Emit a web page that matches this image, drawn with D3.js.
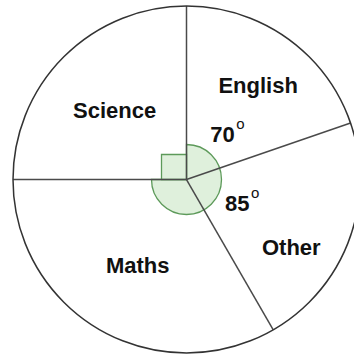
<!DOCTYPE html>
<html><head><meta charset="utf-8">
<script src="https://cdn.jsdelivr.net/npm/d3@7"></script>
<style>html,body{margin:0;padding:0;background:#fff;}svg{display:block;}</style>
</head><body>
<svg id="chart" width="354" height="355"></svg>
<script>
// Data (slice angles in degrees as drawn, clockwise from 12 o'clock)
const subjects = ["English", "Other", "Maths", "Science"];
const sliceDegrees = [71, 79, 120, 90];
const angleLabels = ["70", "85", null, null];

// Layout (not data)
const W = 354, H = 355, cx = 186.5, cy = 179.5, R = 173.5;
const markR = 35, squareSide = 25;
const nameLayout = { English: [37.4, 118], Other: [123, 125], Maths: [209.5, 99], Science: [314, 100] };
const angleLayout = { English: [38.4, 58], Other: [115, 56] };

const svg = d3.select("#chart");
const g = svg.append("g").attr("transform", `translate(${cx},${cy})`);
const rad = d => d * Math.PI / 180;

const pie = d3.pie().sort(null).value(d => d.v);
const arcs = pie(subjects.map((s, i) => ({ name: s, v: sliceDegrees[i], lab: angleLabels[i] })));
const arcGen = d3.arc().innerRadius(0).outerRadius(R);

// slices
g.selectAll("path.slice").data(arcs).join("path")
  .attr("class", "slice").attr("d", arcGen)
  .attr("fill", "#fff").attr("stroke", "none");

// green angle marker for the non-right slices
const marked = arcs.filter(a => a.data.name !== "Science");
const markArc = d3.arc().innerRadius(0).outerRadius(markR);
g.append("path")
  .attr("d", markArc({ startAngle: marked[0].startAngle, endAngle: marked[marked.length - 1].endAngle }))
  .attr("fill", "#dff0dc").attr("stroke", "#5d9a5a").attr("stroke-width", 1.3);

// right-angle square for Science
const sci = arcs.find(a => a.data.name === "Science");
const p = (ang, r) => [Math.sin(ang) * r, -Math.cos(ang) * r];
const a1 = p(sci.startAngle, squareSide), a2 = p(sci.endAngle, squareSide);
g.append("path")
  .attr("d", `M0,0L${a1[0]},${a1[1]}L${a1[0] + a2[0]},${a1[1] + a2[1]}L${a2[0]},${a2[1]}Z`)
  .attr("fill", "#dff0dc").attr("stroke", "#5d9a5a").attr("stroke-width", 1.3);

// radial lines
g.selectAll("line.rad").data(arcs).join("line")
  .attr("class", "rad")
  .attr("x1", 0).attr("y1", 0)
  .attr("x2", d => p(d.startAngle, R)[0]).attr("y2", d => p(d.startAngle, R)[1])
  .attr("stroke", "#4a4a4a").attr("stroke-width", 1.5);

// outer circle
g.append("circle").attr("r", R).attr("fill", "none").attr("stroke", "#333").attr("stroke-width", 1.5);

// subject labels
g.selectAll("text.name").data(arcs).join("text")
  .attr("class", "name")
  .attr("x", d => p(rad(nameLayout[d.data.name][0]), nameLayout[d.data.name][1])[0])
  .attr("y", d => p(rad(nameLayout[d.data.name][0]), nameLayout[d.data.name][1])[1])
  .attr("text-anchor", "middle").attr("dominant-baseline", "central")
  .attr("font-family", "Liberation Sans, Arial, sans-serif").attr("font-weight", "bold")
  .attr("font-size", 22).attr("fill", "#111")
  .text(d => d.data.name);

// angle labels
const angG = g.selectAll("g.ang").data(arcs.filter(a => a.data.lab)).join("g")
  .attr("class", "ang")
  .attr("transform", d => {
    const q = p(rad(angleLayout[d.data.name][0]), angleLayout[d.data.name][1]);
    return `translate(${q[0]},${q[1]})`;
  });
angG.append("text")
  .attr("text-anchor", "middle").attr("dominant-baseline", "central")
  .attr("font-family", "Liberation Sans, Arial, sans-serif").attr("font-weight", "bold")
  .attr("font-size", 22).attr("fill", "#111")
  .text(d => d.data.lab);
angG.append("text")
  .attr("x", 18).attr("y", -11)
  .attr("text-anchor", "middle").attr("dominant-baseline", "central")
  .attr("font-family", "Liberation Sans, Arial, sans-serif")
  .attr("font-size", 15).attr("fill", "#111")
  .text("o");
</script>
</body></html>
